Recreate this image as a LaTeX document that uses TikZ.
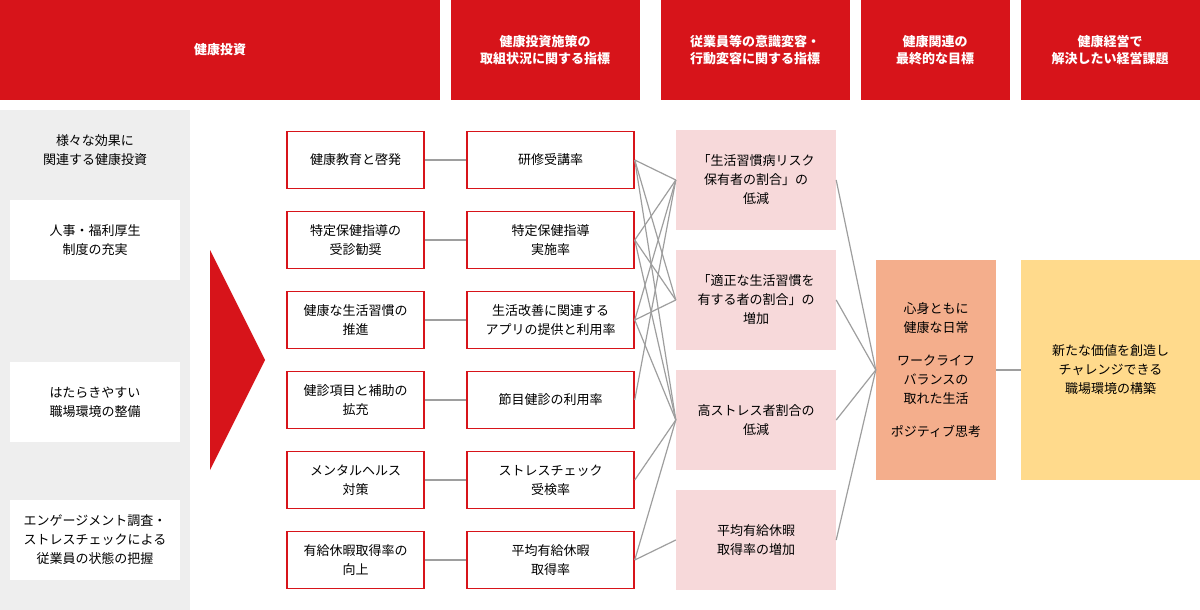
\documentclass[tikz,border=0pt]{standalone}
\usepackage{fontspec}
\setmainfont{Noto Sans CJK JP}
\usetikzlibrary{positioning}
\definecolor{hred}{HTML}{D7141A}
\definecolor{pgray}{HTML}{EEEEEE}
\definecolor{pink}{HTML}{F7D9DA}
\definecolor{salmon}{HTML}{F4AE8C}
\definecolor{cream}{HTML}{FFDA8C}
\definecolor{lgray}{HTML}{9E9E9E}
\tikzset{
  head/.style={fill=hred,text=white,font=\fontsize{13}{17}\selectfont\bfseries,align=center,inner sep=0pt},
  sidebox/.style={fill=white,minimum width=170pt,minimum height=80pt,align=center,font=\fontsize{13}{19}\selectfont},
  redbox/.style={draw=hred,line width=1.5pt,fill=white,minimum height=57pt,align=center,font=\fontsize{13}{19}\selectfont},
  pinkbox/.style={fill=pink,minimum width=160pt,minimum height=100pt,align=center,font=\fontsize{13}{19}\selectfont},
  link/.style={draw=lgray,line width=1.2pt}
}
\begin{document}
\begin{tikzpicture}[x=1pt,y=-1pt]
      \useasboundingbox (0,0) rectangle (1200,610);
      % headers
      \fill[hred] (0,0) rectangle (440,100);
      \node[head] (h1) at (220,50) {健康投資};
      \fill[hred] (451,0) rectangle (640,100);
      \node[head] (h2) at (545,50) {健康投資施策の\\取組状況に関する指標};
      \fill[hred] (661,0) rectangle (850,100);
      \node[head] (h3) at (755,50) {従業員等の意識変容・\\行動変容に関する指標};
      \fill[hred] (861,0) rectangle (1010,100);
      \node[head] (h4) at (935,50) {健康関連の\\最終的な目標};
      \fill[hred] (1021,0) rectangle (1200,100);
      \node[head] (h5) at (1110,50) {健康経営で\\解決したい経営課題};
      %%
      \fill[pgray] (0,110) rectangle (190,610);
      \node[align=center,font=\fontsize{13}{19}\selectfont] (s0) at (95,150) {様々な効果に\\関連する健康投資};
      \node[sidebox] (s1) at (95,240) {人事・福利厚生\\制度の充実};
      \node[sidebox] (s2) at (95,402) {はたらきやすい\\職場環境の整備};
      \node[sidebox] (s3) at (95,540) {エンゲージメント調査・\\ストレスチェックによる\\従業員の状態の把握};
      \fill[hred] (210,250) -- (265,360) -- (210,470) -- cycle;
      %%
      \foreach \i/\a/\b [evaluate=\i as \y using 80*\i+80] in
        {1/健康教育と啓発/研修受講率,
         2/特定保健指導の\\受診勧奨/特定保健指導\\実施率,
         3/健康な生活習慣の\\推進/生活改善に関連する\\アプリの提供と利用率,
         4/健診項目と補助の\\拡充/節目健診の利用率,
         5/メンタルヘルス\\対策/ストレスチェック\\受検率,
         6/有給休暇取得率の\\向上/平均有給休暇\\取得率}
      {
        \node[redbox,minimum width=137pt] (A\i) at (355.5,\y) {\a};
        \node[redbox,minimum width=167pt] (I\i) at (550.5,\y) {\b};
        \draw[link] (A\i) -- (I\i);
      }
      %%
      \node[pinkbox] (P1) at (756,180) {「生活習慣病リスク\\保有者の割合」の\\低減};
      \node[pinkbox] (P2) at (756,300) {「適正な生活習慣を\\有する者の割合」の\\増加};
      \node[pinkbox] (P3) at (756,420) {高ストレス者割合の\\低減};
      \node[pinkbox] (P4) at (756,540) {平均有給休暇\\取得率の増加};
      \foreach \s/\t in {1/1,1/2,1/3,2/1,2/2,2/3,3/1,3/2,3/3,4/1,5/3,6/3,6/4}
        \draw[link] (I\s.east) -- (P\t.west);
      %%
      \node[fill=salmon,minimum width=120pt,minimum height=220pt,align=center,
            font=\fontsize{13}{19}\selectfont] (G) at (936,370)
            {心身ともに\\健康な日常\\[14pt]ワークライフ\\バランスの\\取れた生活\\[14pt]ポジティブ思考};
      \foreach \t in {1,...,4}
        \draw[link] (P\t.east) -- (G.west);
      \node[fill=cream,minimum width=179pt,minimum height=220pt,align=center,
            font=\fontsize{13}{19}\selectfont] (K) at (1110.5,370)
            {新たな価値を創造し\\チャレンジできる\\職場環境の構築};
      \draw[link] (G) -- (K);
    \end{tikzpicture}
\end{document}
